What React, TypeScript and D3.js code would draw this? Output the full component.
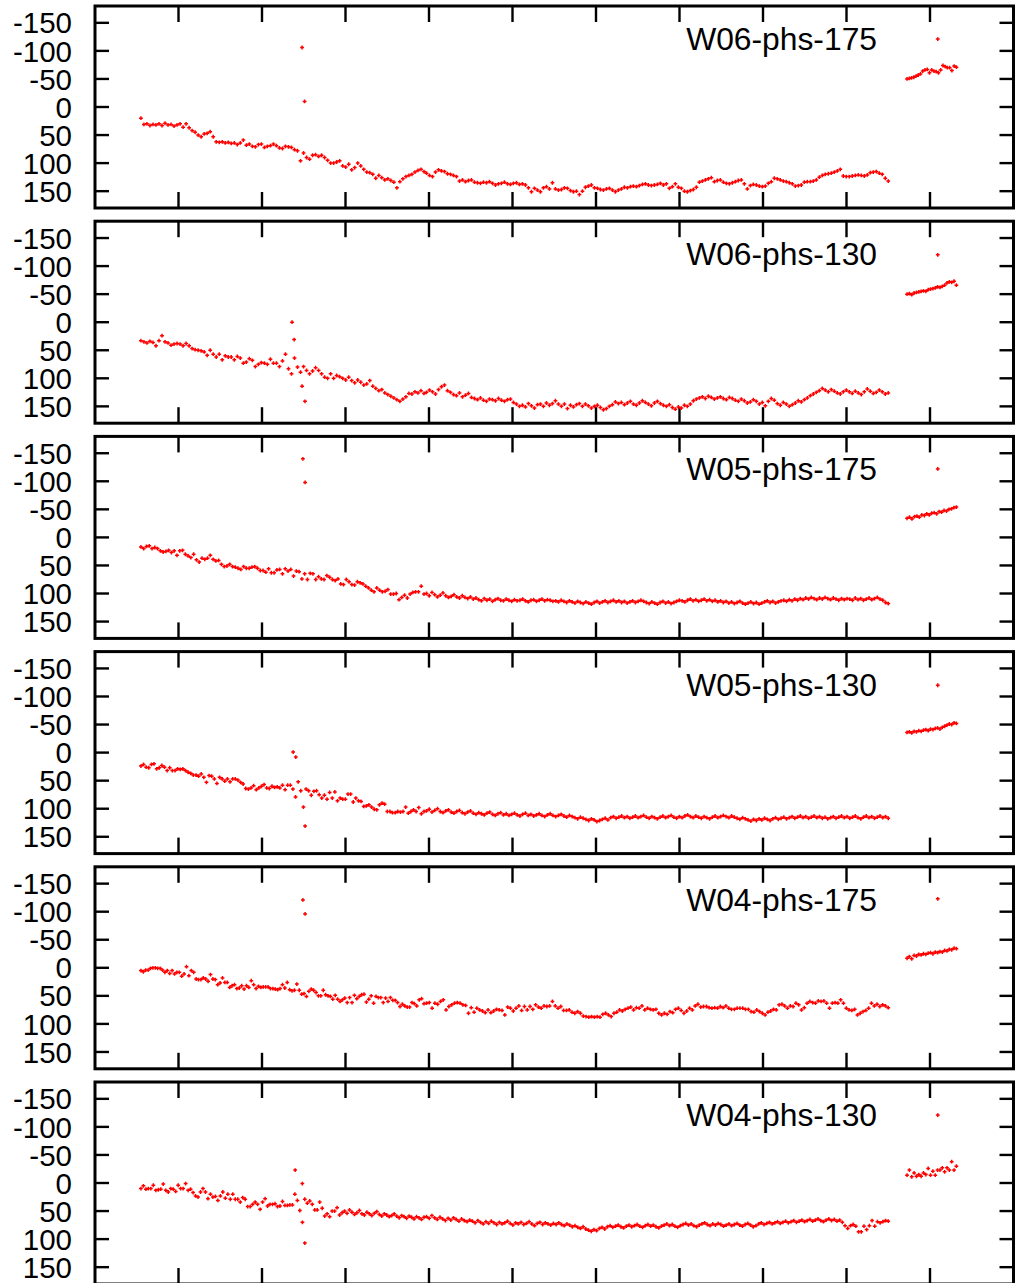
import React from 'react';
import * as d3 from 'd3';

const LABELS = ['W06-phs-175', 'W06-phs-130', 'W05-phs-175', 'W05-phs-130', 'W04-phs-175', 'W04-phs-130'];
const Y_TICKS = [-150, -100, -50, 0, 50, 100, 150];
const X_TICKS = [100, 200, 300, 400, 500, 600, 700, 800, 900, 1000];
const X_LEFT = [55, 394];
const X_RIGHT = [397, 950];
const X_CLUSTER = [972.5, 1031.6];
const X_CLUSTER_OUTLIER = 1009.3;

const P1_LEFT = [20,31,30,33,31,32,30,33,29,32,31,34,32,30,36,30,37,42,45,50,
53,48,47,44,53,62,63,62,64,63,65,64,67,64,59,68,66,70,71,67,
66,72,70,69,66,69,73,74,70,71,72,76,78,96,82,90,93,86,85,88,
86,90,95,100,100,98,96,105,107,102,112,108,100,105,111,116,117,120,127,122,
126,130,128,131,134,144,133,128,124,122,120,116,113,111,115];
const P1_RIGHT = [118,122,124,116,112,
114,115,119,120,122,124,132,130,133,131,130,134,135,136,134,135,133,136,139,137,
136,134,137,138,136,135,138,137,139,144,151,145,148,151,144,142,146,135,146,148,
147,144,145,149,151,150,156,150,143,141,139,144,145,147,148,146,145,148,151,148,
146,143,144,142,141,142,140,138,137,139,140,139,138,136,139,137,145,142,137,143,
145,150,151,149,147,143,134,132,130,128,126,133,131,130,134,136,137,135,133,131,
130,137,146,140,138,139,141,142,141,136,133,127,128,130,132,133,135,137,141,140,
139,134,133,133,132,130,125,122,120,119,118,116,114,111,123,124,124,123,122,121,
122,123,121,117,116,115,118,120,127,132];
const P1_OUTLIERS = [[248, -106], [251, -10]];
const P1_CLUSTER = [-50,-51,-52,-53,-55,-57,-59,-64,-66,-67,-61,-66,-64,-63,-61,-66,-74,-72,-70,-70,-65,-73,-71];

const P2_LEFT = [33,35,37,34,36,42,33,24,35,37,41,39,38,39,42,38,42,47,49,50,
51,53,59,50,57,62,57,67,60,62,62,67,61,64,73,71,65,68,79,75,
72,73,75,66,73,73,79,69,57,83,92,64,80,89,79,86,92,87,81,86,
92,98,100,92,100,95,97,100,103,98,104,108,103,107,112,110,104,114,118,122,
120,126,129,132,135,138,141,137,133,127,128,124,126,122,127];
const P2_RIGHT = [125,121,124,128,120,115,112,122,125,129,131,126,133,130,127,134,136,138,135,139,
141,137,138,140,136,139,141,138,137,143,146,150,148,151,145,149,153,147,146,150,
144,148,145,140,146,150,146,154,148,151,147,145,150,146,149,153,150,148,152,156,
154,150,147,142,145,143,147,144,141,146,148,144,140,143,146,149,144,141,145,148,
150,147,152,155,151,153,148,150,146,140,137,135,133,136,132,134,137,135,133,136,
138,134,136,139,141,137,140,144,142,138,141,146,143,149,141,136,139,145,148,143,
146,150,147,144,140,142,138,135,131,128,125,122,118,121,124,120,123,126,128,124,
121,124,127,123,126,129,124,119,123,127,125,121,124,128,126];
const P2_OUTLIERS = [[236, 0], [238.5, 31], [248, 114], [251.5, 141]];
const P2_CLUSTER = [-50,-51,-49,-52,-53,-54,-55,-56,-55,-58,-59,-60,-61,-63,-62,-64,-66,-70,-72,-71,-73,-66];

const P3_LEFT = [17,20,16,15,20,18,20,24,26,25,23,27,24,32,24,23,30,33,36,30,
40,44,37,39,37,32,39,42,41,48,52,51,48,52,53,55,57,52,55,55,
53,52,55,59,59,62,56,63,63,58,57,65,56,60,57,69,60,61,74,65,
75,64,65,75,70,74,75,68,71,75,77,74,83,84,75,79,84,85,79,81,
83,87,90,94,97,90,94,97,96,93,101,101,100,111,107,103,108,101,98,97,
97,87,101];
const P3_RIGHT = [100,104,98,102,106,103,99,104,107,105,102,106,108,104,107,109,106,
110,108,111,113,109,112,110,114,111,109,112,113,110,112,114,111,113,112,110,113,115,112,111,114,112,110,113,111,112,114,113,115,112,
114,116,113,115,117,114,116,118,115,117,119,116,114,117,115,113,116,114,112,115,113,116,114,117,115,113,116,114,112,
114,116,118,115,117,119,116,114,117,115,118,116,114,112,113,115,112,110,113,111,114,112,110,113,111,114,112,115,113,
116,114,117,115,118,116,114,117,119,117,115,118,116,119,117,115,113,116,114,117,115,113,112,114,111,113,110,112,109,
111,108,110,107,109,111,108,110,107,109,111,108,110,112,109,111,109,110,112,108,111,109,112,110,108,111,109,107,110,112,116,118];
const P3_OUTLIERS = [[249, -140], [251.6, -98]];
const P3_CLUSTER = [-34,-36,-33,-37,-38,-36,-40,-39,-42,-40,-43,-44,-42,-46,-45,-48,-47,-50,-51,-53,-54];

const P4_LEFT = [24,21,26,27,21,20,29,27,23,26,32,27,32,32,29,30,29,32,35,37,
40,40,42,38,44,53,41,42,47,55,44,47,51,47,52,47,47,49,53,56,
64,65,63,59,66,63,60,57,63,64,60,62,61,63,58,66,58,58,65,79,
52,68,97,65,68,76,69,68,75,81,76,83,71,81,70,86,81,83,83,74,
74,88,81,86,87,96,95,93,97,101,102,93,90,92,105,105,107,107,105,106,
105,97,108,105,102,105,98,109,105];
const P4_RIGHT = [104,101,106,103,100,105,107,104,102,106,108,105,103,107,109,106,104,
108,110,107,109,111,108,106,110,112,109,107,111,109,112,110,108,111,113,110,108,112,110,113,111,109,112,114,111,109,112,114,112,110,
113,115,112,114,116,118,115,117,119,121,118,120,123,121,119,117,120,116,114,117,115,113,116,114,117,115,113,116,114,
112,115,117,114,116,118,115,113,116,114,112,115,117,114,116,113,111,114,116,113,115,117,114,116,118,115,113,116,114,
112,114,116,113,115,117,119,116,118,120,122,119,121,118,120,117,119,121,118,116,119,117,115,118,116,114,117,115,113,
116,114,117,115,113,116,114,117,115,118,116,114,117,115,113,116,114,117,115,113,116,118,115,113,116,114,117,115,113,116,114,117];
const P4_OUTLIERS = [[237.3, -1], [240.5, 8], [251.6, 131]];
const P4_CLUSTER = [-36,-37,-35,-38,-37,-39,-38,-40,-41,-39,-42,-41,-43,-44,-42,-45,-47,-49,-51,-50,-53,-52];

const P5_LEFT = [5,7,4,4,1,0,0,1,1,4,8,5,10,5,11,8,8,15,11,-2,
14,5,8,20,21,21,18,20,24,12,20,21,30,27,18,26,26,35,32,30,
37,36,32,38,32,35,23,30,37,33,35,34,34,34,37,37,38,39,37,30,
36,26,39,41,40,29,40,47,46,51,42,38,40,44,50,50,40,48,50,51,
56,49,56,60,57,54,62,53,62,49,55,51,48,47,61,56,50,63,51,53,
53,62,54,60,53,58,58,62,69,65,68,70,70,62,64,68,57,55,64];
const P5_RIGHT = [63,62,72,63,65,60,57,75,69,66,63,62,63,66,67,81,71,79,72,75,
77,80,75,80,77,74,75,76,84,70,72,77,72,68,76,69,75,69,74,66,
70,72,68,69,68,60,68,72,69,76,76,75,79,81,78,81,86,87,88,87,
88,87,88,83,81,84,87,81,79,75,77,74,72,70,75,71,72,68,75,72,
74,75,74,81,84,81,83,78,80,74,72,76,81,77,72,75,68,65,70,69,
69,71,72,71,72,69,71,68,72,74,74,72,72,72,74,74,78,79,75,78,
81,84,79,77,74,75,66,65,68,72,68,69,63,66,75,71,63,60,62,63,
59,60,59,63,72,63,62,63,57,63,72,75,76,74,84,81,78,76,72,63,
68,65,69,66,68,71];
const P5_OUTLIERS = [[249, -121], [251.6, -96]];
const P5_CLUSTER = [-17,-20,-16,-22,-21,-24,-23,-25,-24,-26,-27,-25,-28,-27,-29,-28,-31,-30,-33,-32,-35,-34];

const P6_LEFT = [10,5,11,10,10,4,13,12,11,2,13,16,10,11,15,4,10,10,1,13,
11,17,23,25,16,10,16,28,20,25,24,31,23,16,27,20,29,20,29,29,
34,26,29,42,42,38,34,38,47,34,28,41,38,38,37,42,41,33,40,40,
39,39,20,31,49,1,29,36,32,38,48,48,34,45,59,55,60,50,50,44,
57,53,50,54,48,52,56,53,49,55,57,52,55,58,54,51,56,59,55,57,
60,58,55,59,62,58,60,63,59,61,64,60,62,65,61];
const P6_RIGHT = [60,63,58,62,65,61,64,67,63,66,62,65,68,64,67,69,66,
68,71,67,70,73,69,72,68,71,74,70,73,71,68,72,75,71,73,70,74,72,69,73,76,72,70,74,71,73,75,72,74,71,
74,76,73,75,78,76,79,81,78,82,84,86,83,85,81,79,82,78,76,79,77,75,78,80,77,75,78,76,74,
77,79,76,74,77,75,78,80,77,75,73,76,74,77,79,76,74,72,75,73,76,78,75,73,71,74,76,73,75,
72,74,77,75,73,76,74,72,75,77,74,72,75,78,76,73,71,74,72,70,73,71,69,72,70,68,71,69,67,
70,68,66,69,67,65,68,66,64,67,69,66,64,67,65,68,66,70,
76,81,76,74,77,87,87,77,83,76,67,77,69,71,69,67,68];
const P6_OUTLIERS = [[239.7, -23], [248.4, 70], [251.3, 107]];
const P6_CLUSTER = [-14,-23,-11,-18,-12,-15,-12,-18,-15,-26,-14,-21,-14,-23,-23,-27,-20,-27,-23,-38,-23,-30];

const CLUSTER_OUTLIERS = [-121, -120, -122, -120, -123, -121];

const LEFTS = [P1_LEFT, P2_LEFT, P3_LEFT, P4_LEFT, P5_LEFT, P6_LEFT];
const RIGHTS = [P1_RIGHT, P2_RIGHT, P3_RIGHT, P4_RIGHT, P5_RIGHT, P6_RIGHT];
const OUTLIERS = [P1_OUTLIERS, P2_OUTLIERS, P3_OUTLIERS, P4_OUTLIERS, P5_OUTLIERS, P6_OUTLIERS];
const CLUSTERS = [P1_CLUSTER, P2_CLUSTER, P3_CLUSTER, P4_CLUSTER, P5_CLUSTER, P6_CLUSTER];

const FONT = '"Liberation Sans", Arial, Helvetica, sans-serif';

function seg(values: number[], range: number[]): number[][] {
  const idx = d3.scaleLinear().domain([0, values.length - 1]).range(range);
  return values.map((v, i) => [idx(i), v]);
}

export default function App() {
  const left = 95;
  const right = 1013.5;
  const panelH = 202;
  const step = 215.2;
  const x = d3.scaleLinear().domain([0, 1100]).range([left, right]);

  return (
    <svg width={1017} height={1283} style={{ position: 'absolute', left: 0, top: 0, background: '#fff' }}>
      <rect x={0} y={0} width={1017} height={1283} fill="#fff" />
      {LABELS.map((label, k) => {
        const top = 6 + k * step;
        const y = d3.scaleLinear().domain([-180, 180]).range([top, top + panelH]);
        const pts: number[][] = [
          ...seg(LEFTS[k], X_LEFT),
          ...seg(RIGHTS[k], X_RIGHT),
          ...OUTLIERS[k],
          ...seg(CLUSTERS[k], X_CLUSTER),
          [X_CLUSTER_OUTLIER, CLUSTER_OUTLIERS[k]],
        ];
        const s = 1.9;
        const d = pts
          .map(([xv, v]) => {
            const px = x(xv);
            const py = y(v);
            return `M${(px - s).toFixed(2)},${py.toFixed(2)}h${2 * s}M${px.toFixed(2)},${(py - s).toFixed(2)}v${2 * s}`;
          })
          .join('');
        return (
          <g key={label}>
            {Y_TICKS.map((t) => (
              <g key={'y' + t}>
                <line x1={left} x2={left + 14} y1={y(t)} y2={y(t)} stroke="#000" strokeWidth={2.4} />
                <line x1={right - 14} x2={right} y1={y(t)} y2={y(t)} stroke="#000" strokeWidth={2.4} />
                <text x={72} y={y(t)} dy="0.36em" textAnchor="end" fontFamily={FONT} fontSize={29.5} fill="#000">
                  {t}
                </text>
              </g>
            ))}
            {X_TICKS.map((t) => (
              <g key={'x' + t}>
                <line x1={x(t)} x2={x(t)} y1={top} y2={top + 16} stroke="#000" strokeWidth={2.4} />
                <line x1={x(t)} x2={x(t)} y1={top + panelH - 16} y2={top + panelH} stroke="#000" strokeWidth={2.4} />
              </g>
            ))}
            <path d={d} stroke="#ff0000" strokeWidth={1.5} fill="none" />
            <text x={877} y={top + 44} textAnchor="end" fontFamily={FONT} fontSize={31.8} fill="#000">
              {label}
            </text>
            <rect x={left} y={top} width={right - left} height={panelH} fill="none" stroke="#000" strokeWidth={3} />
          </g>
        );
      })}
    </svg>
  );
}
